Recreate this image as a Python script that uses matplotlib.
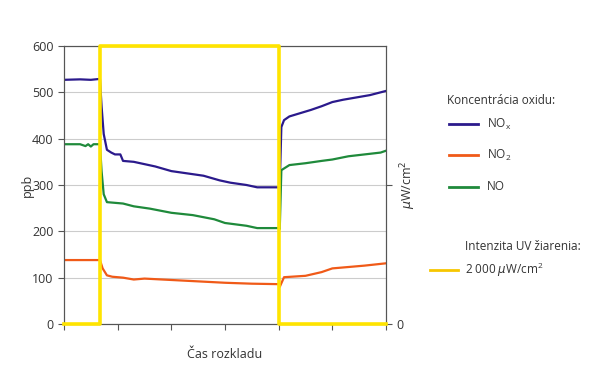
import matplotlib.pyplot as plt

plt.rcParams['font.family'] = ['Open Sans', 'DejaVu Sans']

# time axis (arbitrary units, 6 ticks) and readings
t_nox = [0, 0.3, 0.5, 0.67, 0.70, 0.74, 0.8, 0.88, 0.95, 1.05, 1.1, 1.3, 1.5, 1.7, 2.0, 2.3,
         2.6, 2.9, 3.1, 3.4, 3.6, 4.0, 4.02, 4.05, 4.1, 4.2, 4.4, 4.6, 4.8, 5.0, 5.2, 5.4,
         5.7, 6.0]
nox = [527, 528, 527, 529, 470, 410, 376, 370, 366, 366, 352, 350, 345, 340, 330, 325,
       320, 310, 305, 300, 295, 295, 300, 425, 440, 448, 455, 462, 470, 479, 484, 488,
       494, 503]

t_no = [0, 0.3, 0.4, 0.45, 0.5, 0.55, 0.67, 0.70, 0.74, 0.8, 0.9, 1.1, 1.3, 1.6, 2.0,
        2.4, 2.8, 3.0, 3.4, 3.6, 4.0, 4.02, 4.05, 4.2, 4.5, 4.8, 5.0, 5.3, 5.6, 5.9, 6.0]
no = [388, 388, 384, 388, 383, 388, 388, 330, 280, 263, 262, 260, 254, 249, 240,
      235, 226, 218, 212, 207, 207, 205, 332, 343, 347, 352, 355, 362, 366, 370, 374]

t_no2 = [0, 0.67, 0.72, 0.8, 0.9, 1.1, 1.3, 1.5, 2.0, 2.5, 3.0, 3.5, 4.0, 4.02, 4.1,
         4.5, 4.8, 5.0, 5.3, 5.6, 6.0]
no2 = [138, 138, 120, 105, 102, 100, 96, 98, 95, 92, 89, 87, 86, 80, 101, 104, 112,
       120, 123, 126, 131]

t_uv = [0, 0.67, 0.67, 4.0, 4.0, 6.0]
uv = [0, 0, 2000, 2000, 0, 0]

c_nox = '#2b1a8c'
c_no2 = '#f05a18'
c_no = '#1f8a3b'
c_uv = '#ffe400'

fig = plt.figure(figsize=(6, 3.76), dpi=100)
ax = fig.add_axes([64 / 600, 52 / 376, 322 / 600, 278 / 376])
ax2 = ax.twinx()

ax.plot(t_nox, nox, color=c_nox, lw=1.6)
ax.plot(t_no2, no2, color=c_no2, lw=1.6)
ax.plot(t_no, no, color=c_no, lw=1.6)
# UV lamp on/off, drawn over the frame like in the original
ax2.plot(t_uv, uv, color=c_uv, lw=2.6, clip_on=False, zorder=5)

ax.set_xlim(0, 6)
ax.set_ylim(0, 600)
ax2.set_ylim(0, 2000)
ax.set_yticks(range(0, 601, 100))
ax.set_xticks(range(7))
ax.set_xticklabels([])
ax2.set_yticks([0, 1000])
ax2.set_yticklabels(['0', ''])
ax.grid(axis='y', color='#cccccc', lw=0.8)
ax.set_axisbelow(True)

for a in (ax, ax2):
    for s in a.spines.values():
        s.set_color('#555555')
        s.set_linewidth(0.8)
    a.tick_params(colors='#555555', labelcolor='#333333', labelsize=9, length=4, width=0.8)

ax.set_ylabel('ppb', fontsize=9, color='#333333', labelpad=-1)
ax2.set_ylabel(r'$\mu$W/cm$^2$', fontsize=9, color='#333333', labelpad=-4)
ax.set_xlabel('Čas rozkladu', fontsize=9, color='#333333', labelpad=10)

# legend, drawn by hand as in the original
tc = '#333333'
fig.text(447 / 600, 1 - 100 / 376, 'Koncentrácia oxidu:', fontsize=8.5, color=tc, va='center')
for y, c, lab in [(124, c_nox, 'NO$_\\mathregular{x}$'), (155, c_no2, 'NO$_\\mathregular{2}$'),
                  (187, c_no, 'NO')]:
    fig.add_artist(plt.Line2D([449 / 600, 478 / 600], [1 - y / 376] * 2, color=c, lw=2))
    fig.text(487 / 600, 1 - y / 376, lab, fontsize=8.5, color=tc, va='center')
fig.text(465 / 600, 1 - 247 / 376, 'Intenzita UV žiarenia:', fontsize=8.5, color=tc, va='center')
fig.add_artist(plt.Line2D([430 / 600, 458 / 600], [1 - 270 / 376] * 2, color='#f7c600', lw=2))
fig.text(465 / 600, 1 - 270 / 376, r'2 000 $\mu$W/cm$^\mathregular{2}$', fontsize=8.5,
         color=tc, va='center')

plt.savefig('out.png', dpi=100)
